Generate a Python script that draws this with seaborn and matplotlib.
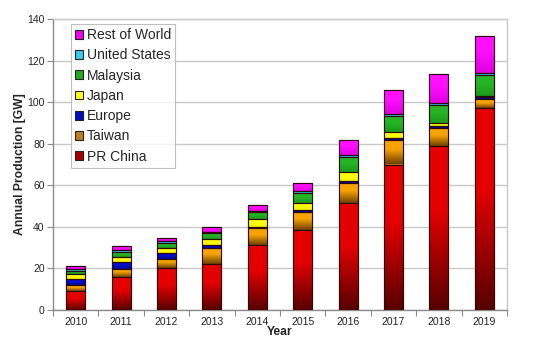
import numpy as np
import pandas as pd
import matplotlib
matplotlib.use("Agg")
import matplotlib.pyplot as plt
import matplotlib.colors as mcolors
from matplotlib.patches import Patch
import seaborn as sns

years = ["2010", "2011", "2012", "2013", "2014", "2015", "2016", "2017", "2018", "2019"]
series_names = ["PR China", "Taiwan", "Europe", "Japan", "Malaysia", "United States", "Rest of World"]
china    = [9.1, 15.7, 20.0, 22.0, 31.3, 38.3, 51.3, 70.0, 79.0, 97.0]
taiwan   = [2.8, 4.2, 4.7, 7.8, 8.1, 8.8, 9.9, 11.7, 8.6, 4.3]
europe   = [2.8, 3.0, 2.5, 1.3, 0.6, 1.0, 1.1, 1.1, 0.7, 1.0]
japan    = [2.5, 2.7, 2.8, 3.2, 3.6, 3.3, 4.0, 2.9, 1.9, 0.7]
malaysia = [1.55, 2.1, 2.1, 2.6, 3.5, 5.0, 7.1, 7.6, 8.2, 10.0]
usa      = [0.85, 1.1, 0.9, 0.5, 0.6, 1.0, 1.0, 0.8, 1.0, 0.8]
rest     = [1.4, 1.8, 1.8, 2.4, 2.9, 3.8, 7.5, 11.8, 14.1, 17.9]
y_ticks = [0, 20, 40, 60, 80, 100, 120, 140]

series_values = [china, taiwan, europe, japan, malaysia, usa, rest]
# (top colour, bottom colour, legend colour)
styles = {
    "PR China": ("#e40000", "#560000", "#a80000"),
    "Taiwan": ("#f8a400", "#6e4000", "#c47c1a"),
    "Europe": ("#0010d0", "#000a90", "#0010c0"),
    "Japan": ("#ffff10", "#f0f000", "#ffff20"),
    "Malaysia": ("#26b526", "#1a9a1a", "#22aa22"),
    "United States": ("#33ccee", "#22b8dd", "#33ccee"),
    "Rest of World": ("#ff10ff", "#e000e0", "#ee00ee"),
}

sns.set_theme(style="white")
plt.rcParams["font.family"] = ["Liberation Sans", "DejaVu Sans"]

fig = plt.figure(figsize=(5.5, 3.53), dpi=100)
ax = fig.add_axes([53 / 550, 1 - 310 / 353, 454 / 550, 291 / 353])

bottom = np.zeros(len(years))
for name, vals in zip(series_names, series_values):
    top_c, bot_c, leg_c = styles[name]
    df = pd.DataFrame({"Year": years, "GW": vals})
    n_before = len(ax.patches)
    sns.barplot(data=df, x="Year", y="GW", order=years, color=leg_c, errorbar=None,
                width=0.42, bottom=bottom.copy(), edgecolor="#2a0a0a", linewidth=0.8,
                ax=ax, zorder=3, saturation=1)
    new_patches = ax.patches[n_before:]
    cmap = mcolors.LinearSegmentedColormap.from_list(
        name, [(0.0, bot_c), (0.6, top_c), (1.0, top_c)])
    grad = np.linspace(0, 1, 256).reshape(-1, 1)
    for p in new_patches:
        x0, y0 = p.get_x(), p.get_y()
        w, h = p.get_width(), p.get_height()
        if h <= 0:
            continue
        im = ax.imshow(grad, cmap=cmap, origin="lower", aspect="auto",
                       extent=(x0, x0 + w, y0, y0 + h), zorder=3.1,
                       interpolation="bilinear")
        im.set_clip_path(p)
        ax.add_patch(plt.Rectangle((x0, y0), w, h, fill=False,
                                   edgecolor="#2a0a0a", linewidth=0.8, zorder=3.2))
    bottom += np.array(vals)

ax.set_xlim(-0.5, len(years) - 0.5)
ax.set_ylim(0, 140)
ax.set_yticks(y_ticks)
ax.yaxis.grid(True, color="#c8c8c8", linewidth=1.0, zorder=0)
ax.set_axisbelow(True)

for side in ["left", "bottom"]:
    ax.spines[side].set_color("#8a8a8a")
    ax.spines[side].set_linewidth(1.0)
for side in ["top", "right"]:
    ax.spines[side].set_color("#c8c8c8")
    ax.spines[side].set_linewidth(1.0)

ax.tick_params(axis="y", which="major", left=True, length=4, width=0.8, color="#8a8a8a",
               labelsize=7.5, labelcolor="#222222", pad=2)
ax.tick_params(axis="x", which="major", bottom=False, length=0, labelsize=7.5,
               labelcolor="#222222", pad=5)
ax.set_xticks(np.arange(-0.5, len(years), 1.0), minor=True)
ax.tick_params(axis="x", which="minor", bottom=True, length=4, width=0.8, color="#8a8a8a")

ax.set_xlabel("Year", fontsize=8.7, fontweight="bold", labelpad=-1)
ax.set_ylabel("Annual Production [GW]", fontsize=8.7, fontweight="bold", labelpad=1)

handles = [Patch(facecolor=styles[n][2], edgecolor="#222222", linewidth=0.8)
           for n in series_names][::-1]
leg = ax.legend(handles, series_names[::-1], loc="upper left",
                bbox_to_anchor=(0.039, 0.983), borderaxespad=0, fontsize=10,
                frameon=True, fancybox=False, edgecolor="#b0b0b0",
                handlelength=0.6, handleheight=0.6, handletextpad=0.25,
                labelspacing=0.45, borderpad=0.3)
leg.get_frame().set_linewidth(0.8)
leg.set_zorder(5)

fig.savefig("out.png", dpi=100)
